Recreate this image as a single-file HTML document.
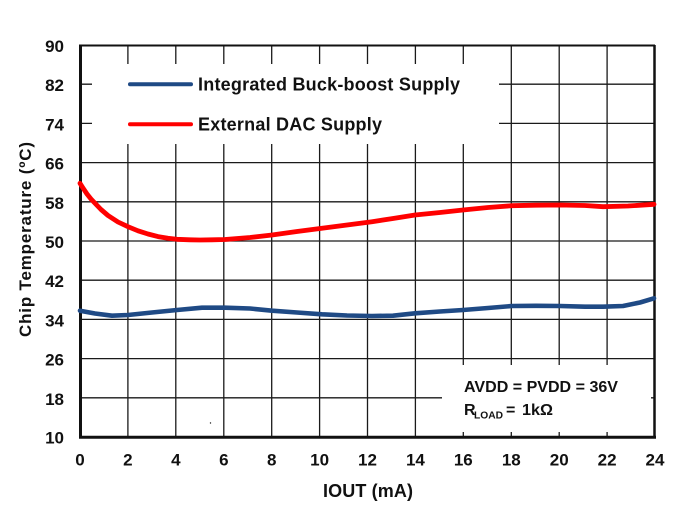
<!DOCTYPE html>
<html><head><meta charset="utf-8"><style>
html,body{margin:0;padding:0;background:#fff;}
svg{display:block;}
text{font-family:"Liberation Sans",Arial,sans-serif;font-weight:bold;fill:#111;}
</style></head><body>
<svg width="680" height="507" viewBox="0 0 680 507" xmlns="http://www.w3.org/2000/svg">
<rect x="0" y="0" width="680" height="507" fill="#fff"/>
<!-- grid -->
<g stroke="#1a1a1a" stroke-width="1.3">
<line x1="127.9" y1="45" x2="127.9" y2="437"/>
<line x1="175.8" y1="45" x2="175.8" y2="437"/>
<line x1="223.8" y1="45" x2="223.8" y2="437"/>
<line x1="271.7" y1="45" x2="271.7" y2="437"/>
<line x1="319.6" y1="45" x2="319.6" y2="437"/>
<line x1="367.5" y1="45" x2="367.5" y2="437"/>
<line x1="415.4" y1="45" x2="415.4" y2="437"/>
<line x1="463.3" y1="45" x2="463.3" y2="437"/>
<line x1="511.3" y1="45" x2="511.3" y2="437"/>
<line x1="559.2" y1="45" x2="559.2" y2="437"/>
<line x1="607.1" y1="45" x2="607.1" y2="437"/>
<line x1="80" y1="397.8" x2="655" y2="397.8"/>
<line x1="80" y1="358.6" x2="655" y2="358.6"/>
<line x1="80" y1="319.4" x2="655" y2="319.4"/>
<line x1="80" y1="280.2" x2="655" y2="280.2"/>
<line x1="80" y1="241" x2="655" y2="241"/>
<line x1="80" y1="201.8" x2="655" y2="201.8"/>
<line x1="80" y1="162.6" x2="655" y2="162.6"/>
<line x1="80" y1="123.4" x2="655" y2="123.4"/>
<line x1="80" y1="84.2" x2="655" y2="84.2"/>
</g>
<!-- legend box & annotation box -->
<rect x="92" y="64" width="407" height="80" fill="#fff"/>
<rect x="442" y="365" width="209" height="67" fill="#fff"/>
<!-- axes frame -->
<line x1="80" y1="45.5" x2="655" y2="45.5" stroke="#111" stroke-width="2"/>
<line x1="654.5" y1="45" x2="654.5" y2="438" stroke="#111" stroke-width="2.5"/>
<line x1="80.5" y1="44.5" x2="80.5" y2="438.5" stroke="#111" stroke-width="3"/>
<line x1="79" y1="437.3" x2="656" y2="437.3" stroke="#111" stroke-width="3"/>
<circle cx="210.5" cy="423" r="0.7" fill="#222"/>
<!-- series -->
<polyline fill="none" stroke="#ff0000" stroke-width="4.8" stroke-linejoin="round" stroke-linecap="round" points="80,183.3 83,188 87,194 91,199 95,203.3 101,209.5 108,215.5 118,222 128,226.7 138,230.8 148,234 158,236.6 168,238.3 177,239.3 190,239.8 200,240 212,239.8 225,239.5 250,237.5 272,235 297,231.5 322,228.3 347,225 372,221.7 393,218.5 415,215 440,212.5 463,210 488,207.5 512,205.7 536,205.2 560,205 585,205.5 603,206.7 628,206 654,204.3"/>
<polyline fill="none" stroke="#1f4a85" stroke-width="4.6" stroke-linejoin="round" stroke-linecap="round" points="80,310.7 95,313.5 112,315.7 128,315 152,312.5 177,310 202,307.7 225,307.7 250,308.5 272,310.7 297,312.5 322,314.3 347,315.5 372,316 393,315.7 415,313.3 440,311.5 463,310 488,308 512,306 536,305.8 560,306 585,306.7 603,306.7 623,306 640,302.5 654,298.3"/>
<!-- legend -->
<line x1="130" y1="84.3" x2="191" y2="84.3" stroke="#1f4a85" stroke-width="4" stroke-linecap="round"/>
<line x1="130" y1="124.3" x2="191" y2="124.3" stroke="#ff0000" stroke-width="4" stroke-linecap="round"/>
<text x="198" y="90.7" font-size="18" textLength="262" lengthAdjust="spacing">Integrated Buck-boost Supply</text>
<text x="198" y="130.7" font-size="18" textLength="184" lengthAdjust="spacing">External DAC Supply</text>
<!-- annotation -->
<text x="464" y="392" font-size="16" textLength="154" lengthAdjust="spacingAndGlyphs">AVDD = PVDD = 36V</text>
<text x="464" y="415" font-size="16">R</text>
<text x="474" y="418.5" font-size="10" textLength="29" lengthAdjust="spacingAndGlyphs">LOAD</text>
<text x="506" y="415" font-size="16">=</text>
<text x="522" y="415" font-size="16" textLength="31" lengthAdjust="spacingAndGlyphs">1kΩ</text>
<!-- y tick labels -->
<g font-size="17" text-anchor="end">
<text x="64" y="52">90</text>
<text x="64" y="91">82</text>
<text x="64" y="130.5">74</text>
<text x="64" y="169.6">66</text>
<text x="64" y="208.8">58</text>
<text x="64" y="248">50</text>
<text x="64" y="287.2">42</text>
<text x="64" y="326.4">34</text>
<text x="64" y="365.6">26</text>
<text x="64" y="404.8">18</text>
<text x="64" y="443.5">10</text>
</g>
<!-- x tick labels -->
<g font-size="17" text-anchor="middle">
<text x="80" y="465.5">0</text>
<text x="127.9" y="465.5">2</text>
<text x="175.8" y="465.5">4</text>
<text x="223.8" y="465.5">6</text>
<text x="271.7" y="465.5">8</text>
<text x="319.6" y="465.5">10</text>
<text x="367.5" y="465.5">12</text>
<text x="415.4" y="465.5">14</text>
<text x="463.3" y="465.5">16</text>
<text x="511.3" y="465.5">18</text>
<text x="559.2" y="465.5">20</text>
<text x="607.1" y="465.5">22</text>
<text x="655" y="465.5">24</text>
</g>
<!-- axis titles -->
<text x="368" y="497" font-size="18" text-anchor="middle" textLength="90" lengthAdjust="spacing">IOUT (mA)</text>
<text transform="translate(31,239.5) rotate(-90)" x="0" y="0" font-size="17" text-anchor="middle" textLength="195" lengthAdjust="spacing">Chip Temperature (ºC)</text>
</svg>
</body></html>
